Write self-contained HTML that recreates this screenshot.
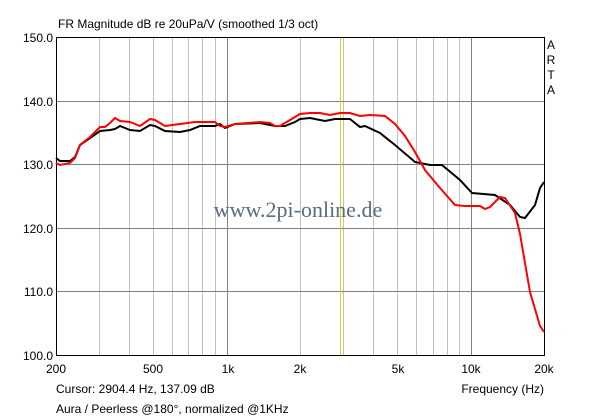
<!DOCTYPE html>
<html><head><style>
body{margin:0;background:#fff;}
svg{display:block;font-family:"Liberation Sans",Arial,sans-serif;font-size:12px;}
</style></head><body>
<svg width="600" height="419" viewBox="0 0 600 419" xmlns="http://www.w3.org/2000/svg">
<rect width="600" height="419" fill="#fff"/>
<g stroke="#c0c0c0" stroke-width="1">
<line x1="99.5" y1="37" x2="99.5" y2="355"/><line x1="129.5" y1="37" x2="129.5" y2="355"/>
<line x1="153.5" y1="37" x2="153.5" y2="355"/><line x1="172.5" y1="37" x2="172.5" y2="355"/>
<line x1="188.5" y1="37" x2="188.5" y2="355"/><line x1="202.5" y1="37" x2="202.5" y2="355"/>
<line x1="215.5" y1="37" x2="215.5" y2="355"/>
<line x1="300.5" y1="37" x2="300.5" y2="355"/><line x1="343.5" y1="37" x2="343.5" y2="355"/>
<line x1="373.5" y1="37" x2="373.5" y2="355"/><line x1="397.5" y1="37" x2="397.5" y2="355"/>
<line x1="416.5" y1="37" x2="416.5" y2="355"/><line x1="433.5" y1="37" x2="433.5" y2="355"/>
<line x1="447.5" y1="37" x2="447.5" y2="355"/><line x1="459.5" y1="37" x2="459.5" y2="355"/>
</g>
<g stroke="#808080" stroke-width="1">
<line x1="227.5" y1="37" x2="227.5" y2="355"/><line x1="471.5" y1="37" x2="471.5" y2="355"/>
<line x1="56" y1="101.5" x2="544" y2="101.5"/><line x1="56" y1="164.5" x2="544" y2="164.5"/>
<line x1="56" y1="228.5" x2="544" y2="228.5"/><line x1="56" y1="291.5" x2="544" y2="291.5"/>
</g>
<line x1="340.5" y1="37" x2="340.5" y2="355" stroke="#d8d800" stroke-width="1"/>
<rect x="56.5" y="37.5" width="488" height="318" fill="none" stroke="#000" stroke-width="1"/>
<text x="298" y="217" text-anchor="middle" font-family="'Liberation Serif',serif" font-size="22" fill="#5a6a80">www.2pi-online.de</text>
<polyline fill="none" stroke="#000" stroke-width="2" points="56,158 60,161 70,161 75,157 80,145 90,138 100,131 110,130 115,129 120,126 125,128 130,130 140,131 150,125 155,126 165,131 180,132 190,130 200,126 215,126 220,124 225,128 235,124 260,123 275,126 285,126 295,122 300,119 310,118 325,121 335,119 350,119 360,127 365,126 380,133 395,145 415,162 430,165 442,165 460,180 472,193 495,195 510,205 520,217 525,218 535,205 540,188 544,182"/>
<polyline fill="none" stroke="#f00" stroke-width="2" points="56,163 60,165 70,163 75,158 80,145 90,137 100,127 105,127 110,123 115,118 120,121 130,122 140,126 150,119 155,120 165,126 180,124 195,122 215,122 220,126 225,127 235,124 260,122 270,123 275,126 280,126 290,120 300,114 310,113 320,113 330,115 340,113 350,113 360,116 370,115 385,116 395,124 405,136 415,152 425,170 440,188 455,205 465,206 480,206 485,209 490,207 500,197 505,198 515,213 520,234 525,263 530,292 540,326 544,332"/>
<text x="58" y="28">FR Magnitude dB re 20uPa/V (smoothed 1/3 oct)</text>
<g text-anchor="end">
<text x="53" y="42">150.0</text><text x="53" y="106">140.0</text><text x="53" y="169">130.0</text>
<text x="53" y="233">120.0</text><text x="53" y="296">110.0</text><text x="53" y="360">100.0</text>
</g>
<g text-anchor="middle">
<text x="551" y="49">A</text><text x="551" y="64">R</text><text x="551" y="79">T</text><text x="551" y="94">A</text>
<text x="56" y="373">200</text><text x="153" y="373">500</text><text x="228" y="373">1k</text>
<text x="300" y="373">2k</text><text x="398" y="373">5k</text><text x="471" y="373">10k</text><text x="544" y="373">20k</text>
</g>
<text x="56" y="393">Cursor: 2904.4 Hz, 137.09 dB</text>
<text x="544" y="393" text-anchor="end">Frequency (Hz)</text>
<text x="56" y="413">Aura / Peerless @180°, normalized @1KHz</text>
</svg>
</body></html>
